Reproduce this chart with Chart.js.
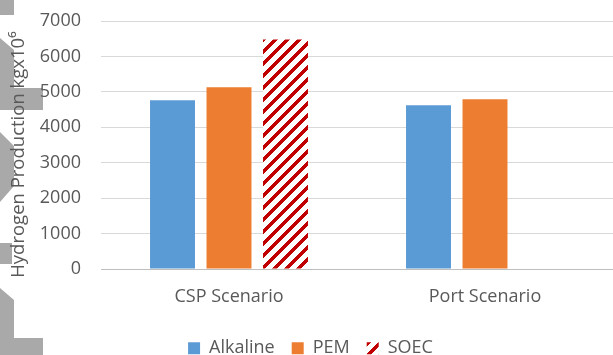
<!DOCTYPE html>
<html>
<head>
<meta charset="utf-8">
<script src="https://cdn.jsdelivr.net/npm/chart.js@4.4.1/dist/chart.umd.min.js"></script>
<style>
  html, body { margin: 0; padding: 0; background: #ffffff; }
  #wrap { width: 613px; height: 355px; position: relative; }
</style>
</head>
<body>
<div id="wrap"><canvas id="chart" width="613" height="355"></canvas></div>
<script>
// Hydrogen production per electrolyser technology and scenario (kg x 10^6)
const categories = ['CSP Scenario', 'Port Scenario'];
const alkaline = [4760, 4620];
const pem = [5130, 4790];
const soec = [6480, null];
const yTicks = [0, 1000, 2000, 3000, 4000, 5000, 6000, 7000];
const yTitle = 'Hydrogen Production kgx10\u2076    ';

const FONT = "'Open Sans', sans-serif";
const TEXT = '#595959';

// Wide upward diagonal hatch in dark red on white
function makeHatch() {
  const size = 12;
  const c = document.createElement('canvas');
  c.width = size; c.height = size;
  const g = c.getContext('2d');
  g.fillStyle = '#ffffff';
  g.fillRect(0, 0, size, size);
  g.fillStyle = '#C00000';
  for (let y = 0; y < size; y++) {
    for (let x = 0; x < size; x++) {
      if ((x + y) % size < 5) g.fillRect(x, y, 1, 1);
    }
  }
  return g.createPattern(c, 'repeat');
}
const hatch = makeHatch();

// Grey margin shapes along the left edge
const marginShapes = {
  id: 'marginShapes',
  beforeDraw(chart) {
    const ctx = chart.ctx;
    ctx.save();
    ctx.fillStyle = '#A9A9A9';
    ctx.fillRect(0, 0, 14, 15);
    ctx.beginPath();
    ctx.moveTo(0, 38); ctx.lineTo(14, 50); ctx.lineTo(14, 88); ctx.lineTo(0, 88);
    ctx.closePath(); ctx.fill();
    ctx.fillRect(0, 88, 43, 22);
    ctx.beginPath();
    ctx.moveTo(0, 132); ctx.lineTo(14, 146); ctx.lineTo(14, 186); ctx.lineTo(0, 202);
    ctx.closePath(); ctx.fill();
    ctx.fillRect(0, 243, 12, 21);
    ctx.beginPath();
    ctx.moveTo(0, 288); ctx.lineTo(14, 300); ctx.lineTo(14, 338); ctx.lineTo(0, 338);
    ctx.closePath(); ctx.fill();
    ctx.fillRect(0, 338, 43, 17);
    ctx.restore();
  }
};

// Nudge the legend row slightly right of the canvas centre
const legendShift = {
  id: 'legendShift',
  afterLayout(chart) {
    if (chart.legend) {
      chart.legend.left += 4;
      chart.legend.right += 4;
    }
  }
};

new Chart(document.getElementById('chart'), {
  type: 'bar',
  data: {
    labels: categories,
    datasets: [
      { label: 'Alkaline', data: alkaline, backgroundColor: '#5B9BD5' },
      { label: 'PEM', data: pem, backgroundColor: '#ED7D31' },
      { label: 'SOEC', data: soec, backgroundColor: hatch }
    ]
  },
  options: {
    responsive: false,
    animation: false,
    devicePixelRatio: 1,
    categoryPercentage: 0.662,
    barPercentage: 0.796,
    layout: { padding: { top: 21, right: 0, bottom: 0, left: 0 } },
    plugins: {
      legend: {
        position: 'bottom',
        maxHeight: 32.8,
        labels: {
          font: { family: FONT, size: 18 },
          color: TEXT,
          boxWidth: 12,
          boxHeight: 12,
          padding: 17,
          useBorderRadius: false
        }
      },
      tooltip: { enabled: false }
    },
    scales: {
      x: {
        grid: { display: false, drawTicks: false },
        border: { display: false },
        ticks: { font: { family: FONT, size: 18 }, color: TEXT, padding: 17 },
        afterFit(scale) { scale.height = 53.2; }
      },
      y: {
        min: 0,
        max: 7000,
        afterBuildTicks(scale) { scale.ticks = yTicks.map(v => ({ value: v })); },
        grid: {
          drawTicks: false,
          color: ctx => ctx.tick && ctx.tick.value === 0 ? '#BFBFBF' : '#D9D9D9',
          lineWidth: 1
        },
        border: { display: false },
        ticks: {
          font: { family: FONT, size: 18 },
          color: TEXT,
          padding: 20,
          callback: v => String(v)
        },
        title: {
          display: true,
          text: yTitle,
          font: { family: FONT, size: 18.5 },
          color: TEXT,
          padding: { top: 8, bottom: 0 }
        },
        afterFit(scale) {
          scale.width = 101;
          scale.paddingTop = 0;
          scale.paddingBottom = 0;
        }
      }
    }
  },
  plugins: [marginShapes, legendShift]
});
</script>
</body>
</html>
